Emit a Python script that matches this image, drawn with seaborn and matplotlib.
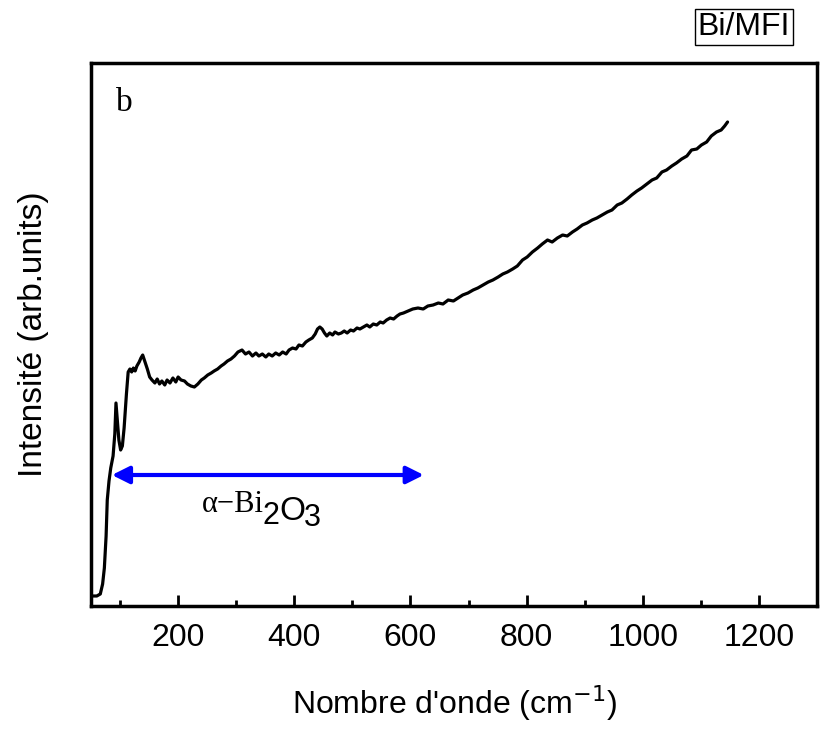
"""
Spectre Raman de Bi/MFI (panneau b) : intensité en fonction du nombre d'onde.
"""
import numpy as np
import pandas as pd
import matplotlib
matplotlib.use("Agg")
import matplotlib.pyplot as plt
import seaborn as sns

# Données (nombre d'onde en cm-1, intensité en unités arbitraires)
wavenumber = [
    53, 60, 66, 70, 73, 76, 78, 81, 84, 88, 91, 93, 95, 98, 101, 104, 107,
    111, 114, 117, 120, 123, 126, 129, 133, 136, 139, 143, 147, 151, 155,
    160, 164, 168, 172, 177, 181, 186, 191, 196, 200, 205, 211, 216, 222,
    228, 234, 240, 245, 251, 257, 262, 268, 274, 279, 285, 291, 297, 303,
    310, 316, 322, 328, 334, 339, 345, 351, 356, 362, 368, 374, 380, 386,
    391, 397, 403, 408, 414, 420, 425, 431, 436, 440, 444, 448, 452, 456,
    461, 466, 470, 476, 481, 486, 491, 497, 502, 508, 513, 519, 525, 530,
    536, 542, 548, 553, 559, 565, 571, 577, 582, 588, 596, 604, 613, 622,
    630, 639, 648, 656, 665, 674, 682, 690, 699, 708, 716, 725, 734, 742,
    751, 759, 767, 776, 784, 793, 801, 810, 819, 827, 836, 844, 853, 862,
    870, 879, 887, 896, 904, 913, 921, 930, 939, 947, 956, 964, 973, 981,
    990, 998, 1007, 1016, 1024, 1033, 1041, 1050, 1058, 1067, 1076, 1084,
    1093, 1101, 1110, 1118, 1127, 1135, 1141, 1146,
]
intensity = [
    10, 10, 12, 22, 38, 70, 106, 125, 138, 150, 172, 203, 188, 166, 156, 160, 178,
    212, 234, 237, 234, 238, 235, 240, 244, 248, 251, 244, 237, 229, 226,
    223, 227, 222, 225, 221, 226, 223, 228, 224, 229, 226, 225, 222, 220,
    219, 222, 226, 228, 231, 233, 235, 237, 240, 242, 245, 247, 250, 254,
    256, 252, 254, 250, 253, 250, 252, 249, 252, 250, 253, 251, 254, 252,
    256, 258, 257, 261, 260, 264, 266, 268, 272, 277, 279, 277, 273, 270,
    273, 271, 274, 272, 273, 275, 273, 276, 275, 278, 277, 279, 281, 279,
    282, 281, 284, 283, 286, 288, 287, 290, 292, 293, 295, 297, 298, 297,
    300, 301, 303, 302, 306, 305, 308, 311, 313, 316, 318, 321, 324, 326,
    329, 332, 334, 337, 340, 346, 349, 354, 358, 362, 366, 364, 368, 371,
    370, 374, 377, 381, 383, 386, 388, 391, 394, 396, 401, 403, 407, 411,
    415, 418, 422, 426, 428, 434, 436, 440, 443, 447, 450, 456,
    457, 461, 464, 470, 474, 476, 480, 484,
]

# Flèche de la phase alpha-Bi2O3
arrow_start = 86
arrow_end = 623
arrow_level = 131

W, H = 823, 731


def px(x, y):
    """Convertit des pixels (origine en haut à gauche) en fraction de figure."""
    return x / W, 1 - y / H


def plot_spectrum():
    """Trace le spectre avec la flèche et les annotations."""
    sns.set_style("ticks")
    plt.rcParams["font.family"] = ["Liberation Sans", "DejaVu Sans"]
    plt.rcParams["text.color"] = "black"
    plt.rcParams["axes.labelcolor"] = "black"
    plt.rcParams["xtick.color"] = "black"
    plt.rcParams["ytick.color"] = "black"

    df = pd.DataFrame({"w": wavenumber, "I": intensity})

    fig = plt.figure(figsize=(W / 100, H / 100), dpi=100)
    ax = fig.add_axes([91 / W, 1 - 606 / H, (817 - 91) / W, (606 - 63) / H])

    sns.lineplot(data=df, x="w", y="I", color="black", linewidth=2.3,
                 sort=False, estimator=None, ax=ax)

    ax.set_xlim(50, 1300)
    ax.set_ylim(0, 543)
    ax.set_xticks(np.arange(200, 1201, 200))
    ax.set_xticks(np.arange(100, 1301, 100), minor=True)
    ax.set_yticks([])
    ax.tick_params(axis="x", which="major", direction="in", length=8, width=2,
                   labelsize=23, pad=12, top=False)
    ax.tick_params(axis="x", which="minor", direction="in", length=4, width=2,
                   top=False)
    for side in ["left", "right", "top", "bottom"]:
        ax.spines[side].set_linewidth(2.5)
        ax.spines[side].set_color("black")

    ax.set_xlabel("Nombre d'onde (cm$^{-1}$)", fontsize=23, labelpad=22)
    ax.set_ylabel("Intensité (arb.units)", fontsize=24, labelpad=30)

    ax.annotate("", xy=(arrow_start, arrow_level), xytext=(arrow_end, arrow_level),
                arrowprops=dict(arrowstyle="<|-|>", color="blue", lw=3,
                                mutation_scale=26, shrinkA=0, shrinkB=0))

    # Étiquette α−Bi2O3 : partie en serif, indices et O en sans-serif
    fig.text(*px(264, 512), "α−Bi", fontsize=22, family="Liberation Serif",
             ha="right", va="baseline")
    fig.text(*px(263, 524), "2", fontsize=22, ha="left", va="baseline")
    fig.text(*px(279, 520), "O", fontsize=24, ha="left", va="baseline")
    fig.text(*px(304, 526), "3", fontsize=22, ha="left", va="baseline")

    fig.text(*px(124, 103), "b", fontsize=24, family="Liberation Serif",
             ha="center", va="center")
    fig.text(*px(744, 27), "Bi/MFI", fontsize=23, ha="center", va="center",
             bbox=dict(boxstyle="square,pad=0.1", fc="white", ec="black", lw=1))

    fig.savefig("out.png", dpi=100)


if __name__ == "__main__":
    plot_spectrum()
